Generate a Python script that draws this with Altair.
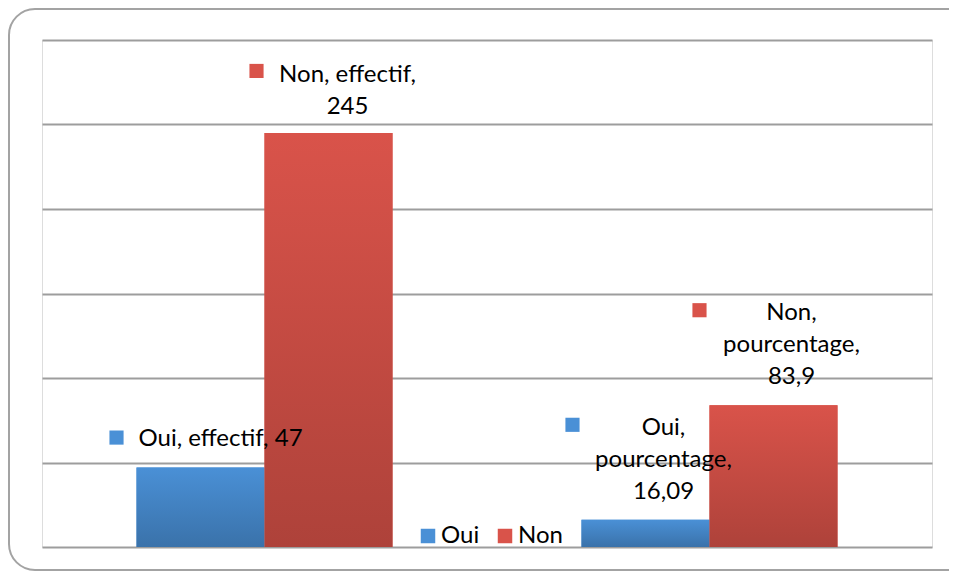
import altair as alt
import pandas as pd

groups = ["effectif", "pourcentage"]
series = ["Oui", "Non"]
oui_values = [47, 16.09]
non_values = [245, 83.9]
label_texts = {
    ("effectif", "Oui"): ["Oui, effectif, 47"],
    ("effectif", "Non"): ["Non, effectif,", "245"],
    ("pourcentage", "Oui"): ["Oui,", "pourcentage,", "16,09"],
    ("pourcentage", "Non"): ["Non,", "pourcentage,", "83,9"],
}
y_ticks = [0, 50, 100, 150, 200, 250, 300]

rows = []
for g, o, n in zip(groups, oui_values, non_values):
    rows.append({"groupe": g, "serie": "Oui", "valeur": o, "label": label_texts[(g, "Oui")]})
    rows.append({"groupe": g, "serie": "Non", "valeur": n, "label": label_texts[(g, "Non")]})
df = pd.DataFrame(rows)

FONT = "Lato"
FS = 24
top_colors = {"Oui": "#4a90d6", "Non": "#d9534a"}
bot_colors = {"Oui": "#3a72aa", "Non": "#ae423a"}

x_enc = alt.X("groupe:N", sort=groups, axis=None,
              scale=alt.Scale(paddingInner=0.4247, paddingOuter=0.2124))
xo_enc = alt.XOffset("serie:N", sort=series, scale=alt.Scale(domain=series, paddingInner=0, paddingOuter=0))
y_enc = alt.Y("valeur:Q", scale=alt.Scale(domain=[0, 300], nice=False),
              axis=alt.Axis(values=y_ticks, labels=False, ticks=False, domain=False, title=None,
                            grid=True, gridColor="#9d9d9d", gridWidth=2))

base = alt.Chart(df)

# frame (decorative)
frame = alt.Chart(pd.DataFrame({"k": [0]})).mark_rect(
    fillOpacity=0, stroke="#a3a3a3", strokeWidth=2, cornerRadius=26
).encode(x=alt.value(-33), x2=alt.value(935), y=alt.value(-31), y2=alt.value(530))

# solid bars that drive the legend
legend_bars = base.mark_bar().encode(
    x=x_enc, xOffset=xo_enc, y=y_enc,
    color=alt.Color("serie:N", sort=series,
                    scale=alt.Scale(domain=series, range=[top_colors["Oui"], top_colors["Non"]]),
                    legend=alt.Legend(title=None, orient="none", direction="horizontal",
                                      legendX=374, legendY=484, symbolType="square",
                                      symbolSize=210, symbolStrokeWidth=0,
                                      labelFont=FONT, labelFontSize=FS, labelColor="#000000",
                                      columnPadding=13, labelOffset=1)),
)

layers = [frame, legend_bars]

for s in series:
    grad = alt.Gradient(gradient="linear", x1=0, x2=0, y1=0, y2=1,
                        stops=[alt.GradientStop(color=top_colors[s], offset=0),
                               alt.GradientStop(color=bot_colors[s], offset=1)])
    layers.append(
        base.transform_filter(alt.datum.serie == s).mark_bar(color=grad).encode(
            x=x_enc, xOffset=xo_enc, y=y_enc)
    )

# label offsets: text relative to bar centre/top, square relative to group centre/bar top
offsets = {
    ("effectif", "Oui"): (20, -29, -148, -30),
    ("effectif", "Non"): (19, -58, -8, -62),
    ("pourcentage", "Oui"): (18, -92, -137, -95),
    ("pourcentage", "Non"): (18, -92, -10, -95),
}
for (g, s), (tdx, tdy, sdx, sdy) in offsets.items():
    sub = base.transform_filter((alt.datum.groupe == g) & (alt.datum.serie == s))
    layers.append(sub.mark_text(font=FONT, fontSize=FS, color="#000000", align="center",
                                baseline="middle", lineHeight=32, dx=tdx, dy=tdy).encode(
        x=x_enc, xOffset=xo_enc, y=y_enc, text="label"))
    layers.append(sub.mark_square(size=200, opacity=1, color=top_colors[s],
                                  xOffset=sdx, yOffset=sdy).encode(
        x=x_enc, y=y_enc))

chart = alt.layer(*layers).properties(
    width=890, height=507,
    autosize=alt.AutoSizeParams(type="none"),
    padding={"left": 34, "top": 32, "right": 17, "bottom": 25},
).configure_view(stroke=None).configure(background="white")

chart.save("out.html", embed_options={"renderer": "svg", "actions": False})
